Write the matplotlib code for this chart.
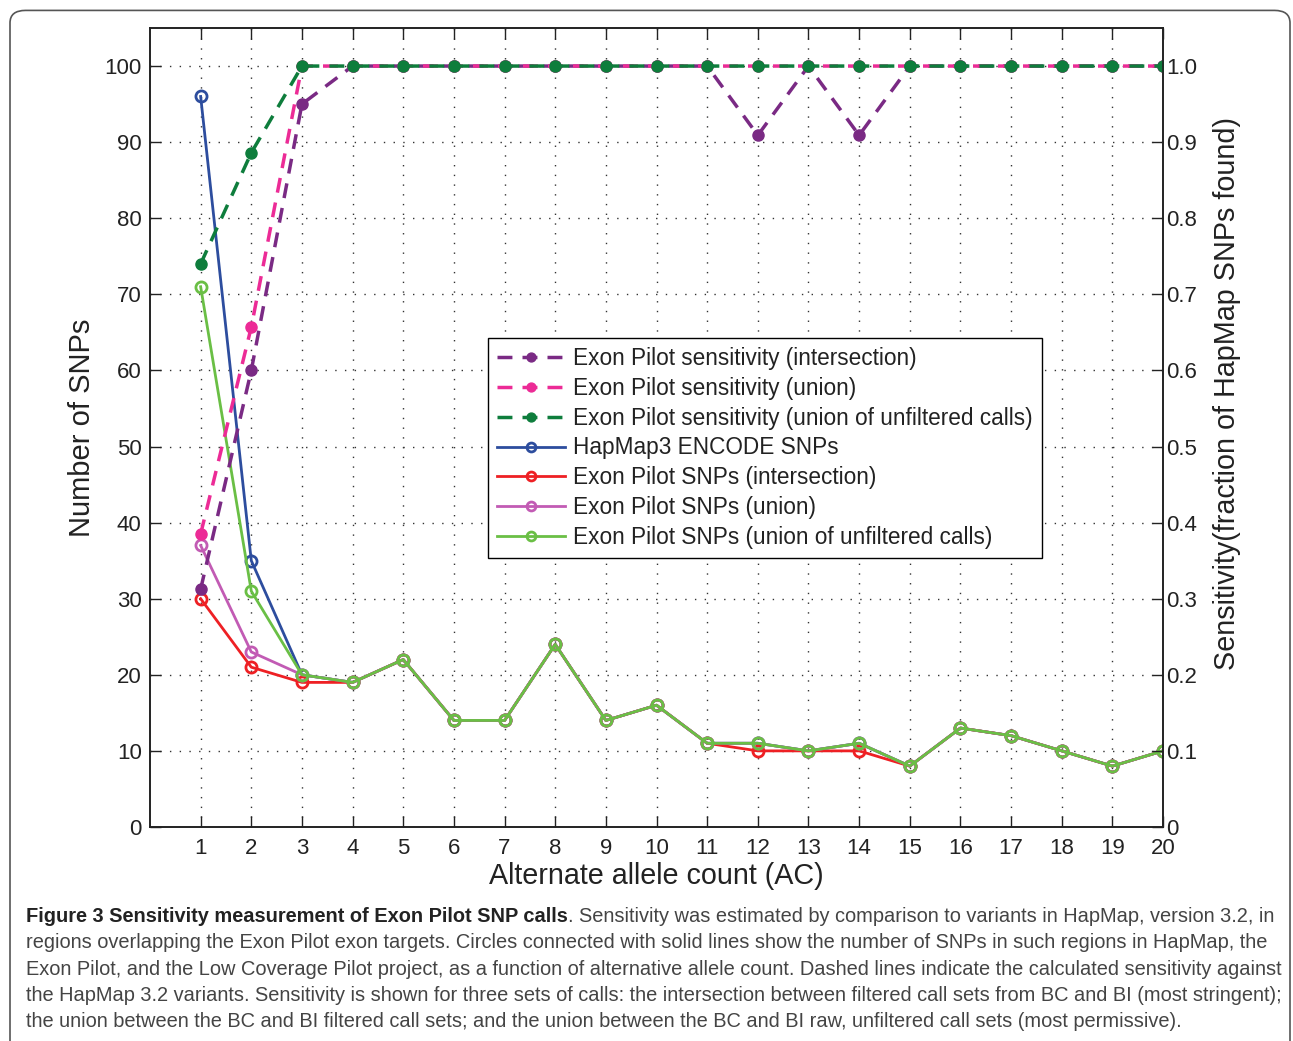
import matplotlib
matplotlib.use("Agg")
from matplotlib import pyplot as plt
from matplotlib.patches import FancyBboxPatch
import numpy as np

# alternate allele count
ac = np.arange(1, 21)

# number of SNPs (left axis)
hapmap = [96, 35, 20, 19, 22, 14, 14, 24, 14, 16, 11, 11, 10, 11, 8, 13, 12, 10, 8, 10]
snps_inter = [30, 21, 19, 19, 22, 14, 14, 24, 14, 16, 11, 10, 10, 10, 8, 13, 12, 10, 8, 10]
snps_union = [37, 23, 20, 19, 22, 14, 14, 24, 14, 16, 11, 11, 10, 11, 8, 13, 12, 10, 8, 10]
snps_unfilt = [71, 31, 20, 19, 22, 14, 14, 24, 14, 16, 11, 11, 10, 11, 8, 13, 12, 10, 8, 10]

# sensitivity (right axis)
sens_inter = [0.3125, 0.60, 0.95, 1.0, 1.0, 1.0, 1.0, 1.0, 1.0, 1.0,
              1.0, 0.909, 1.0, 0.909, 1.0, 1.0, 1.0, 1.0, 1.0, 1.0]
sens_union = [0.385, 0.657, 1.0, 1.0, 1.0, 1.0, 1.0, 1.0, 1.0, 1.0,
              1.0, 1.0, 1.0, 1.0, 1.0, 1.0, 1.0, 1.0, 1.0, 1.0]
sens_unfilt = [0.74, 0.886, 1.0, 1.0, 1.0, 1.0, 1.0, 1.0, 1.0, 1.0,
               1.0, 1.0, 1.0, 1.0, 1.0, 1.0, 1.0, 1.0, 1.0, 1.0]

caption_bold = 'Figure 3 Sensitivity measurement of Exon Pilot SNP calls'
caption_lines = [
    '. Sensitivity was estimated by comparison to variants in HapMap, version 3.2, in',
    'regions overlapping the Exon Pilot exon targets. Circles connected with solid lines show the number of SNPs in such regions in HapMap, the',
    'Exon Pilot, and the Low Coverage Pilot project, as a function of alternative allele count. Dashed lines indicate the calculated sensitivity against',
    'the HapMap 3.2 variants. Sensitivity is shown for three sets of calls: the intersection between filtered call sets from BC and BI (most stringent);',
    'the union between the BC and BI filtered call sets; and the union between the BC and BI raw, unfiltered call sets (most permissive).',
]

plt.rcParams['font.family'] = ['Liberation Sans', 'DejaVu Sans']

fig = plt.figure(figsize=(12.93, 10.41), dpi=100)
ax = fig.add_axes([0.116, 0.2056, 0.7835, 0.7675])
ax2 = ax.twinx()

dash = (0, (4.3, 2.9))
h1, = ax2.plot(ac, sens_inter, color='#7a2a84', ls=dash, lw=2.5, marker='o', ms=8, label='Exon Pilot sensitivity (intersection)')
h2, = ax2.plot(ac, sens_union, color='#ec2b96', ls=dash, lw=2.5, marker='o', ms=8, label='Exon Pilot sensitivity (union)')
h3, = ax2.plot(ac, sens_unfilt, color='#0e7d3c', ls=dash, lw=2.5, marker='o', ms=8, label='Exon Pilot sensitivity (union of unfiltered calls)')

h4, = ax.plot(ac, hapmap, color='#2d4d9e', lw=2, marker='o', ms=8, mfc='none', mew=2, label='HapMap3 ENCODE SNPs')
h5, = ax.plot(ac, snps_inter, color='#ee2024', lw=2, marker='o', ms=8, mfc='none', mew=2, label='Exon Pilot SNPs (intersection)')
h6, = ax.plot(ac, snps_union, color='#c25bb4', lw=2, marker='o', ms=8, mfc='none', mew=2, label='Exon Pilot SNPs (union)')
h7, = ax.plot(ac, snps_unfilt, color='#6abf45', lw=2, marker='o', ms=8, mfc='none', mew=2, label='Exon Pilot SNPs (union of unfiltered calls)')

ax.set_xlim(0, 20)
ax.set_ylim(0, 105)
ax2.set_ylim(0, 1.05)
ax.set_xticks(ac)
ax.set_yticks(np.arange(0, 101, 10))
ax2.set_yticks(np.arange(0, 1.01, 0.1))
ax2.set_yticklabels(['0'] + ['%.1f' % v for v in np.arange(0.1, 1.01, 0.1)])

ax.grid(True, color='#333333', ls=(0, (1, 6)), lw=1)
ax.tick_params(axis='both', direction='in', length=8, width=1, labelsize=16, top=True, colors='#222222')
ax.tick_params(axis='x', pad=8)
ax.tick_params(axis='y', pad=6)
ax2.tick_params(direction='in', length=8, width=1, labelsize=16, pad=2, colors='#222222')
for a in (ax, ax2):
    for s in a.spines.values():
        s.set_linewidth(1.2)
        s.set_color('#222222')

ax.set_xlabel('Alternate allele count (AC)', fontsize=20.7, labelpad=2, color='#222222')
ax.set_ylabel('Number of SNPs', fontsize=21, labelpad=6, color='#222222')
ax2.set_ylabel('Sensitivity(fraction of HapMap SNPs found)', fontsize=20.7, color='#222222')
ax2.yaxis.set_label_coords(1.049, 0.543)

leg = ax2.legend(handles=[h1, h2, h3, h4, h5, h6, h7], loc='upper left',
                 bbox_to_anchor=(0.334, 0.612), fontsize=16.3, handlelength=3.0,
                 fancybox=False, edgecolor='black', framealpha=1, markerscale=0.8,
                 borderpad=0.4, labelspacing=0.3, handletextpad=0.35, borderaxespad=0)
leg.get_frame().set_linewidth(1)
for t in leg.get_texts():
    t.set_color('#222222')

# caption, sized to fit the box width
x0 = 26 / 1293
fs = 13
bold = fig.text(x0, 1 - 917 / 1041, caption_bold, fontsize=fs, fontweight='bold',
                va='center', color='#222222')
rest = ax.annotate(caption_lines[0], xy=(1, 0), xycoords=bold, va='bottom', ha='left',
                   fontsize=fs, color='#444444', annotation_clip=False)
others = []
for i, t in enumerate(caption_lines[1:]):
    others.append(fig.text(x0, 1 - (943 + 26.3 * i) / 1041, t, fontsize=fs,
                           va='center', color='#444444'))
fig.canvas.draw()
r = fig.canvas.get_renderer()
w0 = bold.get_window_extent(r).width + rest.get_window_extent(r).width
widest = max([w0] + [o.get_window_extent(r).width for o in others])
scale = 1252 / widest
for o in [bold, rest] + others:
    o.set_fontsize(fs * scale)

border = FancyBboxPatch((10 / 1293, -0.05), 1280 / 1293, 1.04, transform=fig.transFigure,
                        boxstyle='round,pad=0,rounding_size=0.012', fill=False,
                        edgecolor='#555555', lw=1.2)
fig.patches.append(border)

fig.savefig('out.png', dpi=100)
